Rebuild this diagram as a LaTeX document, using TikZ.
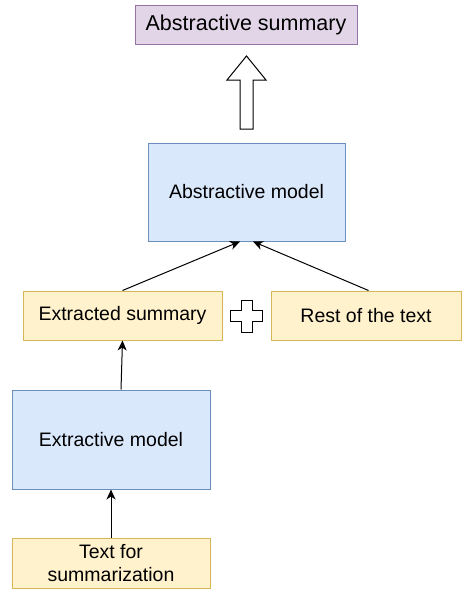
\documentclass[tikz,border=0pt]{standalone}
\usepackage{fontspec}
\setmainfont{Liberation Sans}
\usetikzlibrary{arrows.meta,calc}
\definecolor{pfill}{HTML}{E1D5E7}
\definecolor{pline}{HTML}{9673A6}
\definecolor{bfill}{HTML}{DAE8FC}
\definecolor{bline}{HTML}{6C8EBF}
\definecolor{yfill}{HTML}{FFF2CC}
\definecolor{yline}{HTML}{D6B656}
\tikzset{
  box/.style={draw, line width=1pt, inner sep=0pt, align=center, font=\fontsize{19.5}{23}\selectfont},
  purplebox/.style={box, fill=pfill, draw=pline, font=\fontsize{21.5}{25}\selectfont},
  bluebox/.style={box, fill=bfill, draw=bline},
  yellowbox/.style={box, fill=yfill, draw=yline},
  conn/.style={draw=black, line width=1pt, -{Stealth[length=10pt,width=9pt,inset=3pt]}},
  outline/.style={draw=black, line width=1pt, fill=white, line join=miter}
}
\begin{document}
\begin{tikzpicture}[x=1pt,y=-1pt]
\useasboundingbox (0,0) rectangle (462,589);
\node[purplebox, minimum width=222pt, minimum height=39pt] (as) at (246,24.5) {Abstractive summary};
\node[bluebox, minimum width=197pt, minimum height=98pt] (am) at (246.5,192) {Abstractive model};
\node[yellowbox, minimum width=199pt, minimum height=49pt] (es) at (122.5,315.5) {Extracted summary};
\node[yellowbox, minimum width=190pt, minimum height=49pt] (rt) at (366,315.5) {Rest of the text};
\node[bluebox, minimum width=198pt, minimum height=99pt] (em) at (111,439.5) {Extractive model};
\node[yellowbox, minimum width=198pt, minimum height=50pt] (ts) at (111,563) {Text for\\summarization};
% block arrow
\coordinate (ba) at (246.5,56);
\draw[outline] (ba) -- ++(19.5,24) -- ++(-13,0) -- ++(0,49) -- ++(-13,0) -- ++(0,-49) -- ++(-13,0) -- cycle;
% plus
\coordinate (pc) at (246.5,316);
\draw[outline] ($(pc)+(-5.5,-16)$) -- ++(11,0) -- ++(0,10.5) -- ++(10.5,0) -- ++(0,11) -- ++(-10.5,0) -- ++(0,10.5) -- ++(-11,0) -- ++(0,-10.5) -- ++(-11,0) -- ++(0,-11) -- ++(11,0) -- cycle;
% connectors
\draw[conn] (es.north) -- ($(am.south)+(-6.5,0)$);
\draw[conn] ($(rt.north)+(2.5,0)$) -- ($(am.south)+(6.5,0)$);
\draw[conn] ($(em.north)+(10,0)$) -- (es.south);
\draw[conn] (ts.north) -- (em.south);
\end{tikzpicture}
\end{document}
